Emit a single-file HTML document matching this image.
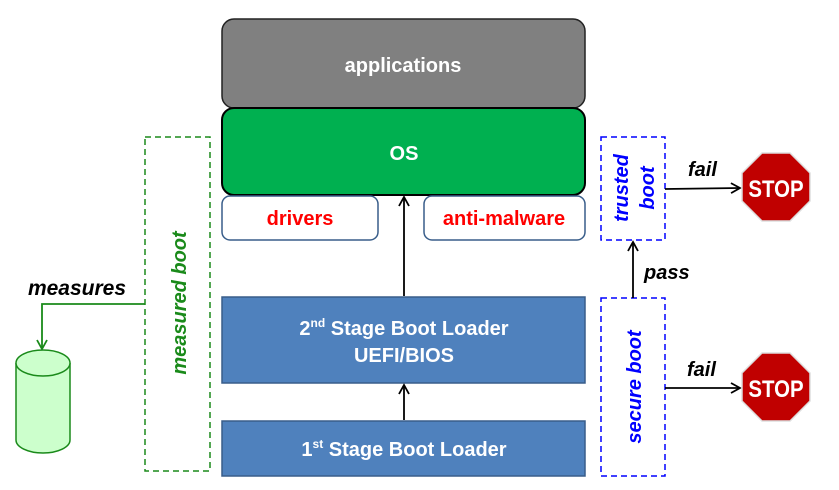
<!DOCTYPE html>
<html><head><style>
body{margin:0;width:839px;height:485px;background:#fff;overflow:hidden;font-family:"Liberation Sans",sans-serif}
</style></head><body>
<svg width="839" height="485" viewBox="0 0 839 485" xmlns="http://www.w3.org/2000/svg" font-family="Liberation Sans, sans-serif" font-weight="bold">
<defs><marker id="a" markerWidth="12" markerHeight="12" refX="10" refY="6" orient="auto" markerUnits="userSpaceOnUse"><path d="M1,1 L10,6 L1,11" fill="none" stroke="#000" stroke-width="1.8"/></marker>
<marker id="g" markerWidth="12" markerHeight="12" refX="10" refY="6" orient="auto" markerUnits="userSpaceOnUse"><path d="M1,1 L10,6 L1,11" fill="none" stroke="#1a8a1a" stroke-width="1.8"/></marker></defs>
<rect x="222" y="19" width="363" height="89" rx="12" fill="#808080" stroke="#222" stroke-width="1.5"/>
<text x="403" y="72" fill="#fff" font-size="20" text-anchor="middle">applications</text>
<rect x="222" y="108" width="363" height="87" rx="12" fill="#00b050" stroke="#000" stroke-width="2"/>
<text x="404" y="160" fill="#fff" font-size="20" text-anchor="middle">OS</text>
<rect x="222" y="196" width="156" height="44" rx="8" fill="#fff" stroke="#385d8a" stroke-width="1.5"/>
<text x="300" y="225" fill="#ff0000" font-size="20" text-anchor="middle">drivers</text>
<rect x="424" y="196" width="161" height="44" rx="8" fill="#fff" stroke="#385d8a" stroke-width="1.5"/>
<text x="504" y="225" fill="#ff0000" font-size="20" text-anchor="middle">anti-malware</text>
<rect x="222" y="297" width="363" height="86" fill="#4f81bd" stroke="#385d8a" stroke-width="1.5"/>
<text x="404" y="335" fill="#fff" font-size="20" text-anchor="middle">2<tspan font-size="12" dy="-8">nd</tspan><tspan dy="8"> Stage Boot Loader</tspan></text>
<text x="404" y="362" fill="#fff" font-size="20" text-anchor="middle">UEFI/BIOS</text>
<rect x="222" y="421" width="363" height="55" fill="#4f81bd" stroke="#385d8a" stroke-width="1.5"/>
<text x="404" y="456" fill="#fff" font-size="20" text-anchor="middle">1<tspan font-size="12" dy="-8">st</tspan><tspan dy="8"> Stage Boot Loader</tspan></text>
<line x1="404" y1="296" x2="404" y2="197" stroke="#000" stroke-width="1.8" marker-end="url(#a)"/>
<line x1="404" y1="420" x2="404" y2="385" stroke="#000" stroke-width="1.8" marker-end="url(#a)"/>
<rect x="145" y="137" width="65" height="334" fill="none" stroke="#1a8a1a" stroke-width="1.5" stroke-dasharray="6,4"/>
<text transform="translate(186,303) rotate(-90)" fill="#1a8a1a" font-size="20" font-style="italic" text-anchor="middle">measured boot</text>
<polyline points="145,304 42,304 42,349" fill="none" stroke="#1a8a1a" stroke-width="1.8" marker-end="url(#g)"/>
<text x="77" y="295" fill="#000" font-size="21" font-style="italic" text-anchor="middle">measures</text>
<path d="M16,363 L16,440 A27,13 0 0 0 70,440 L70,363" fill="#ccffcc" stroke="#1a8a1a" stroke-width="1.5"/>
<ellipse cx="43" cy="363" rx="27" ry="13" fill="#ccffcc" stroke="#1a8a1a" stroke-width="1.5"/>
<rect x="601" y="137" width="64" height="103" fill="none" stroke="#0000ff" stroke-width="1.5" stroke-dasharray="6,4"/>
<text transform="translate(628,188) rotate(-90)" fill="#0000ff" font-size="20" font-style="italic" text-anchor="middle">trusted</text>
<text transform="translate(654,188) rotate(-90)" fill="#0000ff" font-size="20" font-style="italic" text-anchor="middle">boot</text>
<rect x="601" y="298" width="64" height="178" fill="none" stroke="#0000ff" stroke-width="1.5" stroke-dasharray="6,4"/>
<text transform="translate(641,387) rotate(-90)" fill="#0000ff" font-size="20" font-style="italic" text-anchor="middle">secure boot</text>
<line x1="633" y1="298" x2="633" y2="242" stroke="#000" stroke-width="1.8" marker-end="url(#a)"/>
<text x="644" y="279" fill="#000" font-size="20" font-style="italic">pass</text>
<line x1="665" y1="189" x2="740" y2="188" stroke="#000" stroke-width="1.8" marker-end="url(#a)"/>
<text x="688" y="176" fill="#000" font-size="20" font-style="italic">fail</text>
<line x1="665" y1="388" x2="740" y2="388" stroke="#000" stroke-width="1.8" marker-end="url(#a)"/>
<text x="687" y="376" fill="#000" font-size="20" font-style="italic">fail</text>
<g>
<polygon points="762,153 790,153 810,173 810,201 790,221 762,221 742,201 742,173" fill="#c00000" stroke="#ddd" stroke-width="1.5"/>
<text transform="translate(776,197) scale(0.85,1)" fill="#fff" font-size="24" text-anchor="middle">STOP</text>
<polygon points="762,353 790,353 810,373 810,401 790,421 762,421 742,401 742,373" fill="#c00000" stroke="#ddd" stroke-width="1.5"/>
<text transform="translate(776,397) scale(0.85,1)" fill="#fff" font-size="24" text-anchor="middle">STOP</text>
</g>
</svg>
</body></html>
